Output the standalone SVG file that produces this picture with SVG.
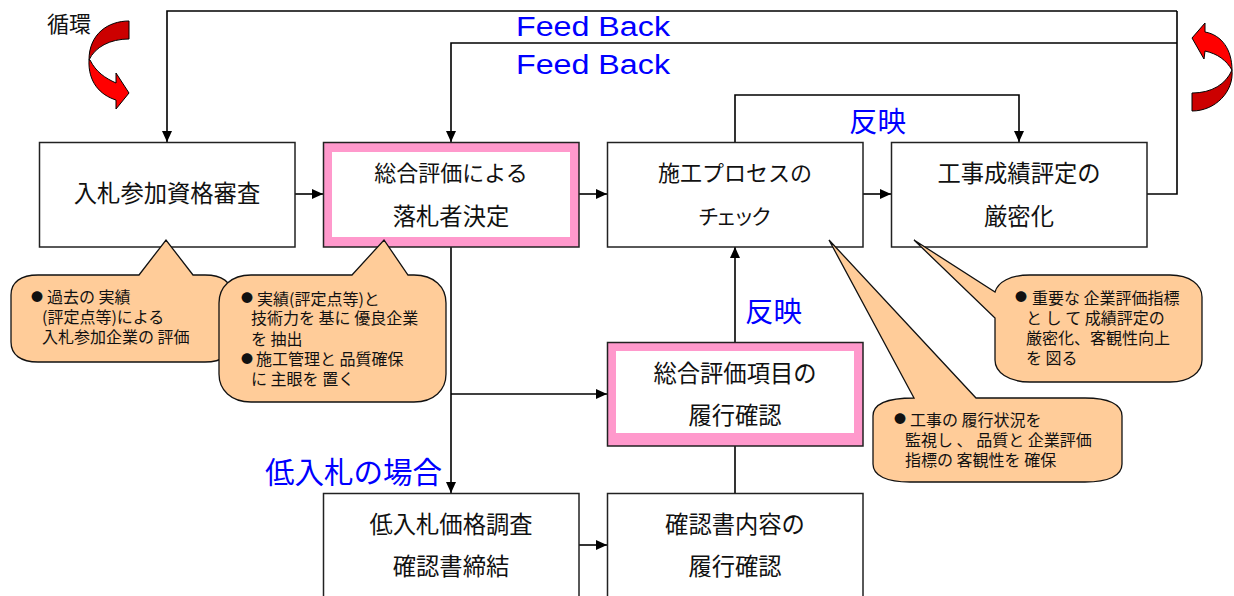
<svg xmlns="http://www.w3.org/2000/svg" width="1234" height="596" viewBox="0 0 1234 596">
<style>
text{font-family:"Noto Sans CJK JP","Liberation Sans",sans-serif;fill:#111}
.box{fill:#fff;stroke:#222;stroke-width:1.5}
.t{font-size:23.300px;text-anchor:middle}
.c{font-size:16px}
.d{font-size:12px}
.b{fill:#00f}
.call{fill:#fc9;stroke:#111;stroke-width:1.3}
.ln{fill:none;stroke:#000;stroke-width:1.6}
.arr{fill:none;stroke:#000;stroke-width:1.6;marker-end:url(#a)}
</style>
<defs>
<marker id="a" markerUnits="userSpaceOnUse" markerWidth="11" markerHeight="10" refX="11" refY="5" orient="auto"><path d="M0,0L11,5L0,10Z" fill="#000"/></marker>
</defs>
<rect width="1234" height="596" fill="#fff"/>
<g id="connectors">
<path class="arr" d="M1177,11H167V142"/>
<path class="ln" d="M1177,11V194H1147"/>
<path class="arr" d="M1177,43H451V142"/>
<path class="arr" d="M735,142V95H1019V142"/>
<path class="arr" d="M295,194H323"/>
<path class="arr" d="M579,194H607"/>
<path class="arr" d="M863,194H891"/>
<path class="arr" d="M451,247V493"/>
<path class="arr" d="M451,394H607"/>
<path class="arr" d="M735,342V247"/>
<path class="ln" d="M735,446V493"/>
<path class="arr" d="M579,545H607"/>
</g>
<g id="n-shinsa"><rect class="box" x="39.500" y="142.500" width="255.500" height="104.500"/><text class="t" x="167" y="202">入札参加資格審査</text></g>
<g id="n-kettei"><rect x="323.500" y="142.500" width="255.500" height="104.500" fill="#f9c" stroke="#222" stroke-width="1.500"/><rect x="332" y="152" width="238" height="85" fill="#fff"/><text class="t" x="451" y="181" style="font-size:22px">総合評価による</text><text class="t" x="451" y="225">落札者決定</text></g>
<g id="n-check"><rect class="box" x="607.500" y="142.500" width="255.500" height="104.500"/><text class="t" x="735" y="181" style="font-size:22px">施工プロセスの</text><text x="698" y="224" style="font-size:21px" textLength="74">チェック</text></g>
<g id="n-seiseki"><rect class="box" x="891.500" y="142.500" width="255.500" height="104.500"/><text class="t" x="1019" y="182">工事成績評定の</text><text class="t" x="1019" y="225">厳密化</text></g>
<g id="n-rikou"><rect x="607.500" y="342.500" width="255.500" height="103.500" fill="#f9c" stroke="#222" stroke-width="1.500"/><rect x="616" y="351" width="238" height="82" fill="#fff"/><text class="t" x="735" y="382">総合評価項目の</text><text class="t" x="735" y="424">履行確認</text></g>
<g id="n-chousa"><rect class="box" x="323.500" y="493.500" width="255.500" height="110"/><text class="t" x="451" y="533">低入札価格調査</text><text class="t" x="451" y="575">確認書締結</text></g>
<g id="n-kakunin"><rect class="box" x="607.500" y="493.500" width="255.500" height="110"/><text class="t" x="735" y="533">確認書内容の</text><text class="t" x="735" y="575">履行確認</text></g>
<g id="callout-1"><path class="call" d="M139,275L166,240L193,275H205C222,275 232,282 232,295V342C232,355 222,362 205,362H38C21,362 11,355 11,342V295C11,282 21,275 38,275Z"/>
<text class="c"><tspan class="d" x="31" y="302">●</tspan><tspan x="47" y="303">過去の 実績</tspan><tspan x="42" y="323">(評定点等)による</tspan><tspan x="42" y="343">入札参加企業の 評価</tspan></text></g>
<g id="callout-2"><path class="call" d="M352,275L384,240L408,275H414C434,275 446,287 446,303V374C446,390 434,402 414,402H251C231,402 219,390 219,374V303C219,287 231,275 251,275Z"/>
<text class="c"><tspan class="d" x="241" y="303">●</tspan><tspan x="257" y="305">実績(評定点等)と</tspan><tspan x="251" y="324">技術力を 基に 優良企業</tspan><tspan x="251" y="345">を 抽出</tspan><tspan class="d" x="241" y="364">●</tspan><tspan x="256" y="365">施工管理と 品質確保</tspan><tspan x="251" y="385">に 主眼を 置く</tspan></text></g>
<g id="callout-3"><path class="call" d="M995,292C998,282 1010,275 1030,275H1170C1190,275 1202,285 1202,297V360C1202,372 1190,382 1170,382H1030C1008,382 995,372 995,360V318L914,240Z"/>
<text class="c"><tspan class="d" x="1015" y="302">●</tspan><tspan x="1032" y="304">重要な 企業評価指標</tspan><tspan x="1026" y="324">と し て 成績評定の</tspan><tspan x="1026" y="344">厳密化、客観性向上</tspan><tspan x="1026" y="364">を 図る</tspan></text></g>
<g id="callout-4"><path class="call" d="M914,398L829,240L976,398H1085C1108,398 1122,404 1122,416V464C1122,476 1108,482 1085,482H910C887,482 873,476 873,464V416C873,404 887,398 914,398Z"/>
<text class="c"><tspan class="d" x="894" y="424">●</tspan><tspan x="910" y="426">工事の 履行状況を</tspan><tspan x="905" y="446">監視し 、 品質と 企業評価</tspan><tspan x="905" y="466">指標の 客観性を 確保</tspan></text></g>
<text x="47" y="32" font-size="22">循環</text>
<text class="b" x="516" y="36" font-size="27" textLength="154" lengthAdjust="spacingAndGlyphs" style="font-family:'Liberation Sans',sans-serif">Feed Back</text>
<text class="b" x="516" y="74" font-size="27" textLength="154" lengthAdjust="spacingAndGlyphs" style="font-family:'Liberation Sans',sans-serif">Feed Back</text>
<text class="b" x="849" y="132" font-size="28.500">反映</text>
<text class="b" x="745" y="322" font-size="28.500">反映</text>
<text class="b" x="265" y="483" font-size="29.500">低入札の場合</text>
<g id="swirl-left" stroke="#000" stroke-width="1">
<path fill="#c00" d="M129,21C108,21 89,34 89,60C95,47 110,39 129,39Z"/>
<path fill="#f00" d="M90,60C96,72 105,78 116,83L116,73L129,93L116,109L116,100C100,95 88,82 89,60Z"/>
</g>
<g id="swirl-right" stroke="#000" stroke-width="1">
<path fill="#c00" d="M1192,93C1212,93 1226,84 1232,70C1234,92 1215,111 1192,111Z"/>
<path fill="#f00" d="M1232,70C1226,60 1218,54 1205,51L1204,59L1192,38L1205,23L1205,32C1222,35 1232,50 1232,70Z"/>
</g>
</svg>
